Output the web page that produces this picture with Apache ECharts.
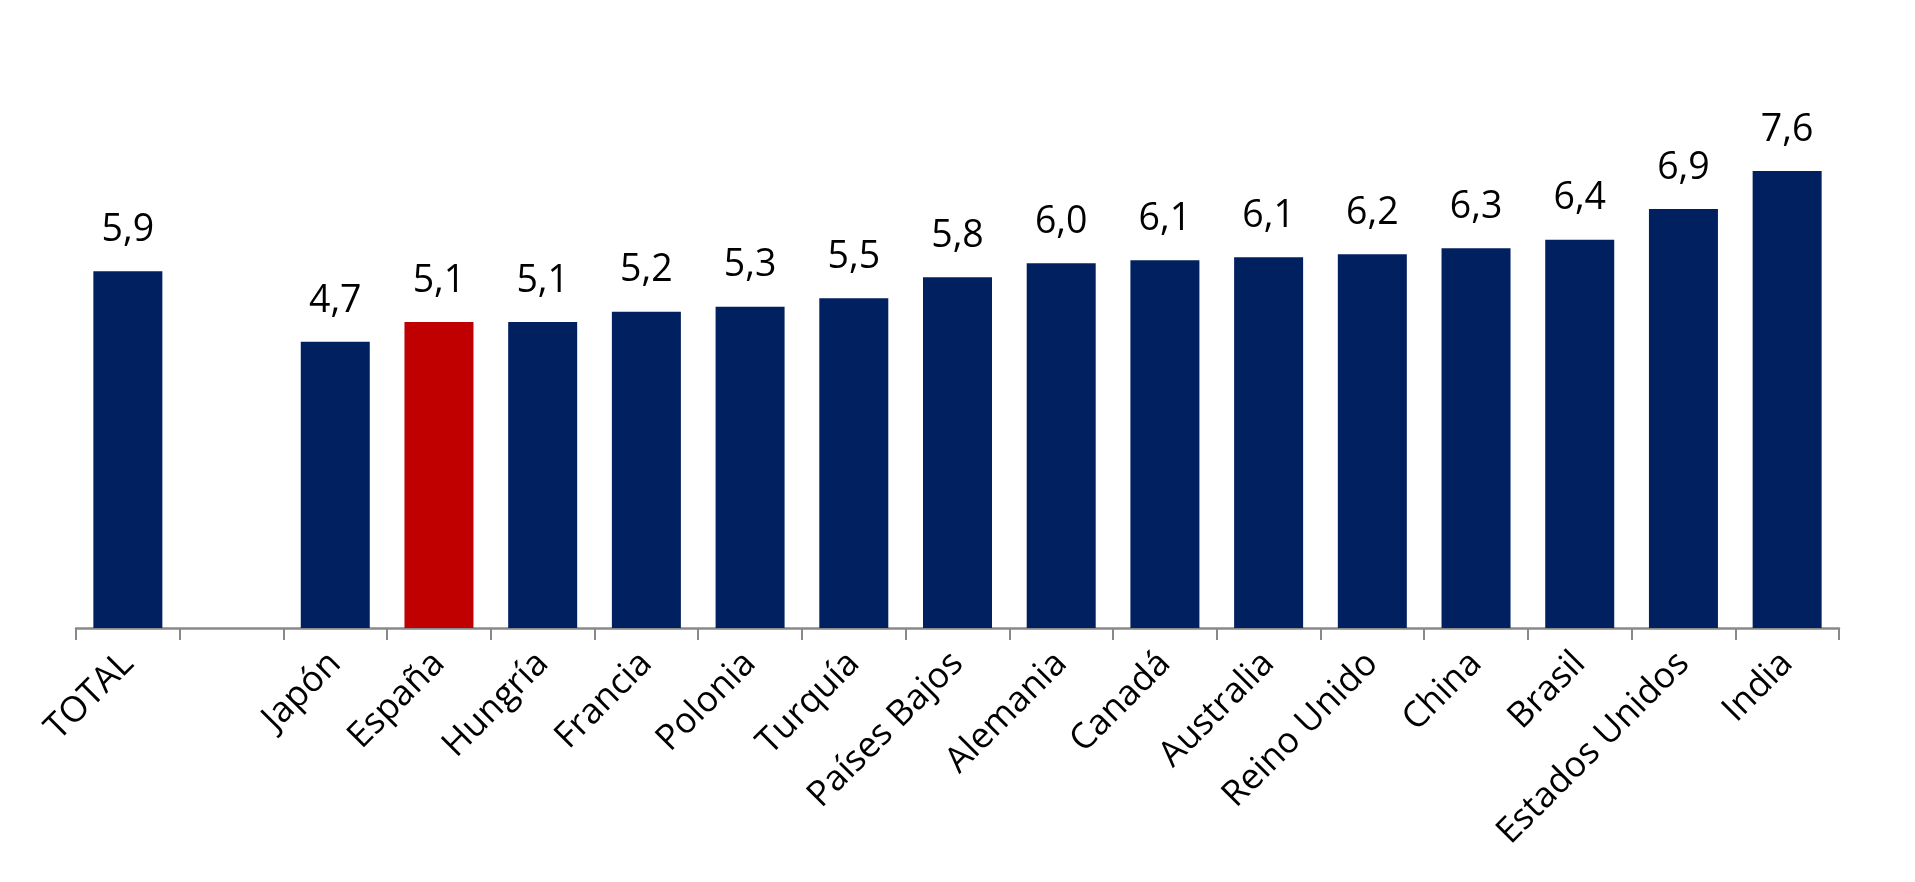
<!DOCTYPE html>
<html>
<head>
<meta charset="utf-8">
<script src="https://cdn.jsdelivr.net/npm/echarts@6/dist/echarts.min.js"></script>
<style>
html,body{margin:0;padding:0;background:#fff;}
#chart{width:1915px;height:882px;}
</style>
</head>
<body>
<div id="chart"></div>
<script>
var categories = ['TOTAL', '', 'Japón', 'España', 'Hungría', 'Francia', 'Polonia', 'Turquía', 'Países Bajos', 'Alemania', 'Canadá', 'Australia', 'Reino Unido', 'China', 'Brasil', 'Estados Unidos', 'India'];
var values = [5.91, null, 4.74, 5.07, 5.07, 5.24, 5.32, 5.46, 5.81, 6.04, 6.09, 6.14, 6.19, 6.29, 6.43, 6.94, 7.57];
var highlight = 'España';

var NAVY = '#002060';
var RED = '#C00000';
var FONT = 'Open Sans';

var seriesData = categories.map(function (c, i) {
  if (values[i] === null) return '-';
  return {
    value: values[i],
    itemStyle: { color: c === highlight ? RED : NAVY }
  };
});

var chart = echarts.init(document.getElementById('chart'));
chart.setOption({
  animation: false,
  grid: { left: 76, right: 76, top: 145, bottom: 254, containLabel: false },
  xAxis: {
    type: 'category',
    data: categories,
    axisLine: { show: true, lineStyle: { color: '#898989', width: 2.5 } },
    axisTick: { show: true, length: 12, lineStyle: { color: '#898989', width: 2 } },
    axisLabel: {
      interval: 0,
      rotate: 45,
      margin: 30,
      color: '#000',
      fontFamily: FONT,
      fontSize: 35.5
    }
  },
  yAxis: {
    type: 'value',
    min: 0,
    max: 8,
    show: false,
    splitLine: { show: false }
  },
  series: [{
    type: 'bar',
    data: seriesData,
    barWidth: 69,
    label: {
      show: true,
      position: 'top',
      distance: 22,
      color: '#000',
      fontFamily: FONT,
      fontSize: 37.5,
      formatter: function (p) { return (Math.round(p.value * 10) / 10).toFixed(1).replace('.', ','); }
    }
  }]
});
</script>
</body>
</html>
